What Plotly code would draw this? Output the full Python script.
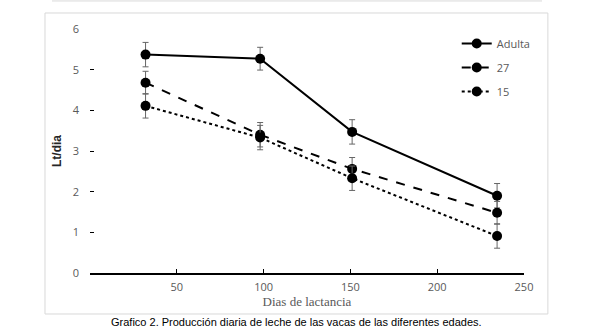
import plotly.graph_objects as go

dias = [32, 98, 151, 234.5]
adulta = [5.37, 5.27, 3.47, 1.90]
e27 = [4.68, 3.40, 2.56, 1.48]
e15 = [4.11, 3.33, 2.33, 0.91]
err_adulta = [0.30, 0.28, 0.30, 0.30]
err_27 = [0.28, 0.30, 0.28, 0.28]
err_15 = [0.30, 0.30, 0.30, 0.30]

series = [("Adulta", adulta, err_adulta, "solid"),
          ("27", e27, err_27, "dash"),
          ("15", e15, err_15, "dot")]

fig = go.Figure()
for name, vals, errs, dash in series:
    fig.add_trace(go.Scatter(
        x=dias, y=vals, name=name, mode="lines+markers", legendgroup=name,
        line=dict(color="black", width=2, dash=dash),
        marker=dict(color="black", size=10),
        error_y=dict(type="data", array=errs, visible=True, color="#666666",
                     thickness=1, width=3),
    ))

fig.update_layout(
    width=594, height=333,
    margin=dict(l=90, r=70, t=29, b=60),
    paper_bgcolor="white", plot_bgcolor="white",
    showlegend=True,
    legend=dict(x=0.845, y=1.0, xanchor="left", yanchor="top",
                font=dict(family="Open Sans, Arial", size=11, color="#595959"),
                bgcolor="rgba(0,0,0,0)", tracegroupgap=5),
    xaxis=dict(range=[0, 250], tickvals=[50, 100, 150, 200, 250],
               showgrid=False, zeroline=False, showline=True, linecolor="black",
               linewidth=1.5, ticks="inside", ticklen=4, tickcolor="black",
               ticklabelstandoff=3,
               tickfont=dict(family="Open Sans, Arial", size=11, color="#595959"),
               title=dict(text="Dias de lactancia", standoff=0,
                          font=dict(family="Liberation Serif, Times New Roman", size=13, color="#595959"))),
    yaxis=dict(range=[0, 6], tickvals=[0, 1, 2, 3, 4, 5, 6],
               showgrid=False, zeroline=False, showline=False,
               ticks="inside", ticklen=4, tickcolor="black",
               ticklabelstandoff=10,
               tickfont=dict(family="Open Sans, Arial", size=11, color="#595959"),
               title=dict(text="<b>Lt/dia</b>", standoff=8,
                          font=dict(family="Liberation Sans, Arial", size=12, color="#262626"))),
    shapes=[
        dict(type="rect", xref="paper", yref="paper", x0=-0.1037, x1=1.055,
             y0=-0.168, y1=1.0656, line=dict(color="#d9d9d9", width=1)),
        dict(type="line", xref="paper", yref="paper", x0=-0.0876, x1=1.0415,
             y0=1.115, y1=1.115, line=dict(color="#d9d9d9", width=1)),
    ],
    annotations=[
        dict(text="Grafico 2. Producción diaria de leche de las vacas de las diferentes edades.",
             xref="paper", yref="paper", x=0.475, y=-0.2, xanchor="center", yanchor="middle",
             showarrow=False, font=dict(family="Liberation Sans, Arial", size=11, color="black")),
    ],
)

fig.write_html("out.html")
